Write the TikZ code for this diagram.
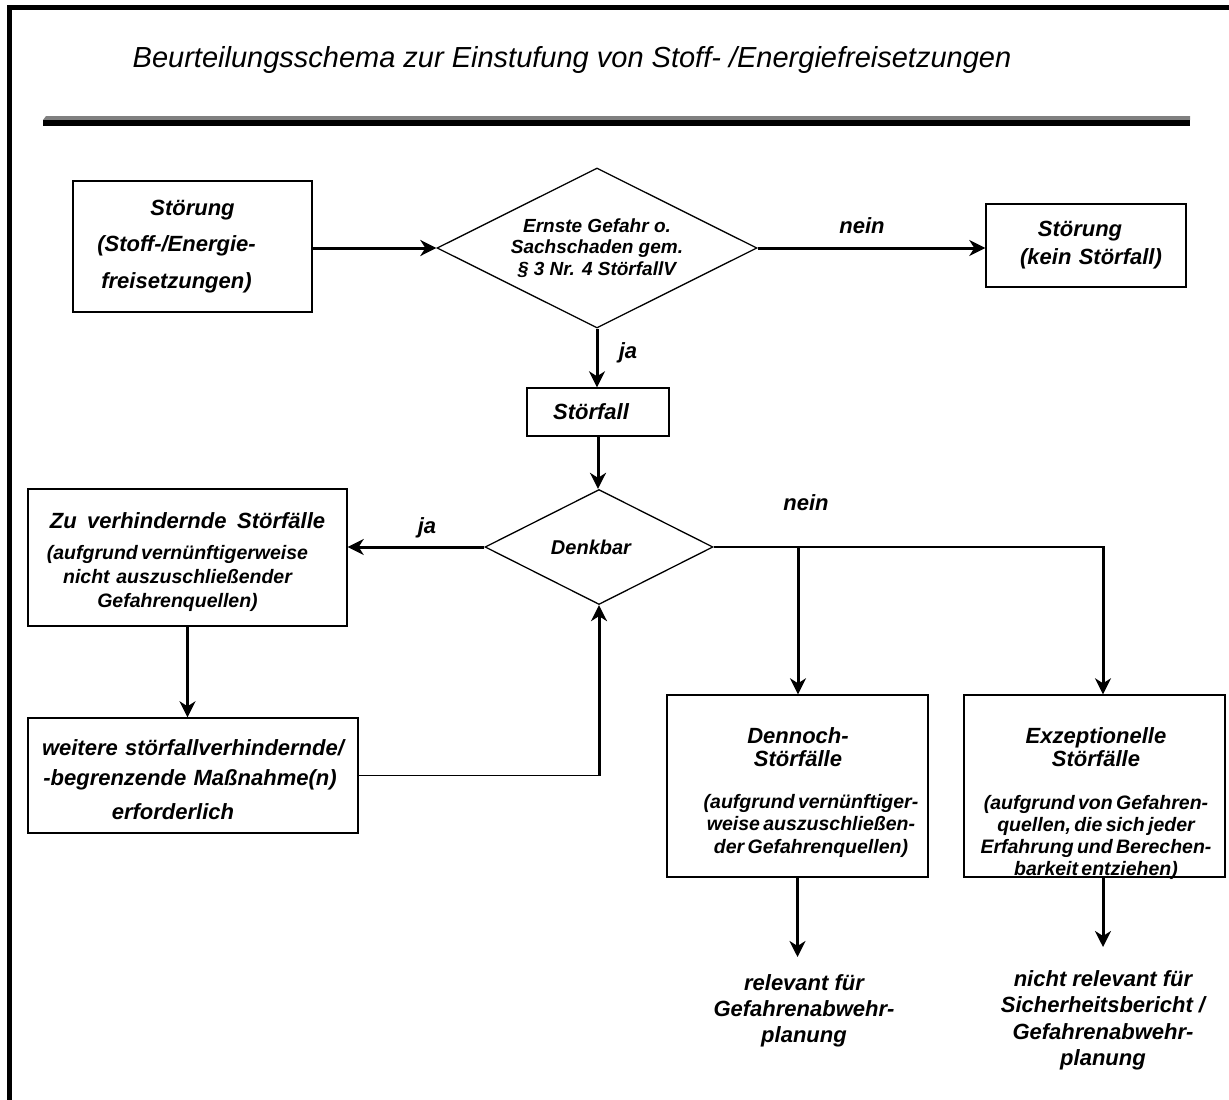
\documentclass[tikz,border=0pt]{standalone}
\usepackage{fontspec}
\setmainfont{Liberation Sans}
\usetikzlibrary{arrows.meta,shapes.geometric}
\newcommand{\bigf}{\fontsize{22}{23}\selectfont\bfseries\itshape}
\newcommand{\smf}{\fontsize{19.5}{22.5}\selectfont\bfseries\itshape}
\newcommand{\sh}[1]{\leavevmode\kern#1}
\begin{document}
\begin{tikzpicture}[x=1pt,y=-1pt,
  box/.style={draw,line width=1.4pt,inner sep=0pt},
  dia/.style={draw,diamond,line width=1.3pt,inner sep=0pt,align=center,aspect=2},
  txt/.style={inner sep=0pt,align=center},
  arr/.style={line width=3pt,-{Stealth[length=16pt,width=16pt,inset=5pt]}},
  thinln/.style={line width=1.8pt},
  lbl/.style={inner sep=0pt,font=\fontsize{22}{26}\selectfont\bfseries\itshape},
]
\useasboundingbox (0,0) rectangle (1229,1100);
\fill[white] (0,0) rectangle (1229,1100);
% frame
\fill[black] (7,5) rectangle (1229,9.5);
\fill[black] (7,5) rectangle (11.5,1100);
% title bar
\fill[black!50] (46,116) -- (1190,116) -- (1190,120) -- (43,120) -- cycle;
\fill[black] (43,120) rectangle (1190,126);
% title
\node[anchor=base,inner sep=0pt,font=\fontsize{29}{34}\selectfont\itshape] (title) at (572,67.5)
  {Beurteilungsschema zur Einstufung von Stoff- /Energiefreisetzungen};

% boxes
\node[box,minimum width=239pt,minimum height=131pt,text width=230pt,align=center,
  font=\fontsize{22}{36.5}\selectfont\bfseries\itshape] (stoer) at (192.5,246.5)
  {Störung\\(Stoff-/Energie-\kern32pt\\freisetzungen)\kern32pt};
\node[dia,minimum width=320pt,minimum height=160pt,
  font=\fontsize{19}{21.5}\selectfont\bfseries\itshape] (gef) at (597,248)
  {Ernste Gefahr o.\\Sachschaden gem.\\§ 3 Nr. 4 StörfallV};
\node[box,minimum width=200pt,minimum height=83pt,text width=190pt,align=center,
  font=\fontsize{22}{28}\selectfont\bfseries\itshape] (stoer2) at (1086,245.5)
  {Störung\kern12pt\\\sh{10pt}(kein Störfall)};
\node[box,minimum width=142pt,minimum height=48pt,
  font=\fontsize{22}{26}\selectfont\bfseries\itshape] (stfall) at (598,412) {Störfall\kern14pt};
\node[dia,minimum width=228pt,minimum height=115pt,
  font=\fontsize{20}{24}\selectfont\bfseries\itshape] (denk) at (599,547) {Denkbar\kern16pt};
\node[box,minimum width=319pt,minimum height=137pt] (zuverh) at (187.5,557.5) {};
\node[txt,text width=310pt] (zuverhT) at (187.5,562.5)
  {{\fontsize{22}{26}\selectfont\bfseries\itshape\spaceskip=10.5pt Zu verhindernde Störfälle\par}\vspace{7pt}%
   {\fontsize{19.5}{24}\selectfont\bfseries\itshape (aufgrund vernünftigerweise\kern20pt\\nicht\ \ auszuschließender\kern20pt\\Gefahrenquellen)\kern20pt\par}};
\node[box,minimum width=330pt,minimum height=115pt] (weiter) at (193,775.5) {};
\node[txt,text width=320pt,font=\fontsize{22}{30}\selectfont\bfseries\itshape] (weiterT) at (193,780)
  {weitere störfallverhindernde/\\-begrenzende Maßnahme(n)\kern6pt\\[4pt]erforderlich\kern40pt};
\node[box,minimum width=261pt,minimum height=182pt] (denn) at (797.5,786) {};
\node[txt,anchor=north,text width=255pt] (dennT) at (798,727)
  {{\bigf Dennoch-\\Störfälle\par}\vspace{19.5pt}%
   {\smf \sh{26pt}(aufgrund vernünftiger-\\\sh{26pt}weise auszuschließen-\\\sh{26pt}der Gefahrenquellen)\par}};
\node[box,minimum width=261pt,minimum height=182pt] (exz) at (1094.5,786) {};
\node[txt,anchor=north,text width=255pt] (exzT) at (1096,727)
  {{\bigf Exzeptionelle\\Störfälle\par}\vspace{21pt}%
   {\fontsize{19.5}{22}\selectfont\bfseries\itshape (aufgrund von Gefahren-\\quellen, die sich jeder\\Erfahrung und Berechen-\\barkeit entziehen)\par}};
\node[txt,anchor=north,inner ysep=17pt,font=\fontsize{22}{26}\selectfont\bfseries\itshape] (rel) at (804,957)
  {relevant für\\Gefahrenabwehr-\\planung};
\node[txt,anchor=north,inner ysep=23pt,font=\fontsize{22}{26.5}\selectfont\bfseries\itshape] (nrel) at (1103,947)
  {nicht relevant für\\Sicherheitsbericht /\\Gefahrenabwehr-\\planung};

% labels
\node[lbl] (ja1) at (628,353) {ja};
\node[lbl] (nein1) at (862,226) {nein};
\node[lbl] (ja2) at (427,528) {ja};
\node[lbl] (nein2) at (806,503) {nein};

% connectors
\draw[arr] (stoer.east |- gef.west) -- (gef.west);
\draw[arr] (gef.east) -- (gef.east -| stoer2.west);
\draw[arr] (gef.south) -- (gef.south |- stfall.north);
\draw[arr] (stfall.south) -- (stfall.south |- denk.north);
\draw[arr] (denk.west) -- (denk.west -| zuverh.east);
\draw[arr] (zuverh.south) -- (zuverh.south |- weiter.north);
\coordinate (j1) at (798,547);
\coordinate (j2) at (1103,547);
\draw[thinln] (denk.east) -- ([xshift=1.5pt]j2);
\draw[arr] (j1) -- (j1 |- denn.north);
\draw[arr] (j2) -- (j2 |- exz.north);
\coordinate (j3) at (denk.south |- weiter.east);
\draw[thinln] (weiter.east) -- ([xshift=1.5pt]j3);
\draw[arr] (j3) -- (denk.south);
\draw[arr] (denn.south) -- (denn.south |- rel.north);
\draw[arr] (exz.south -| j2) -- (j2 |- nrel.north);
\end{tikzpicture}
\end{document}
